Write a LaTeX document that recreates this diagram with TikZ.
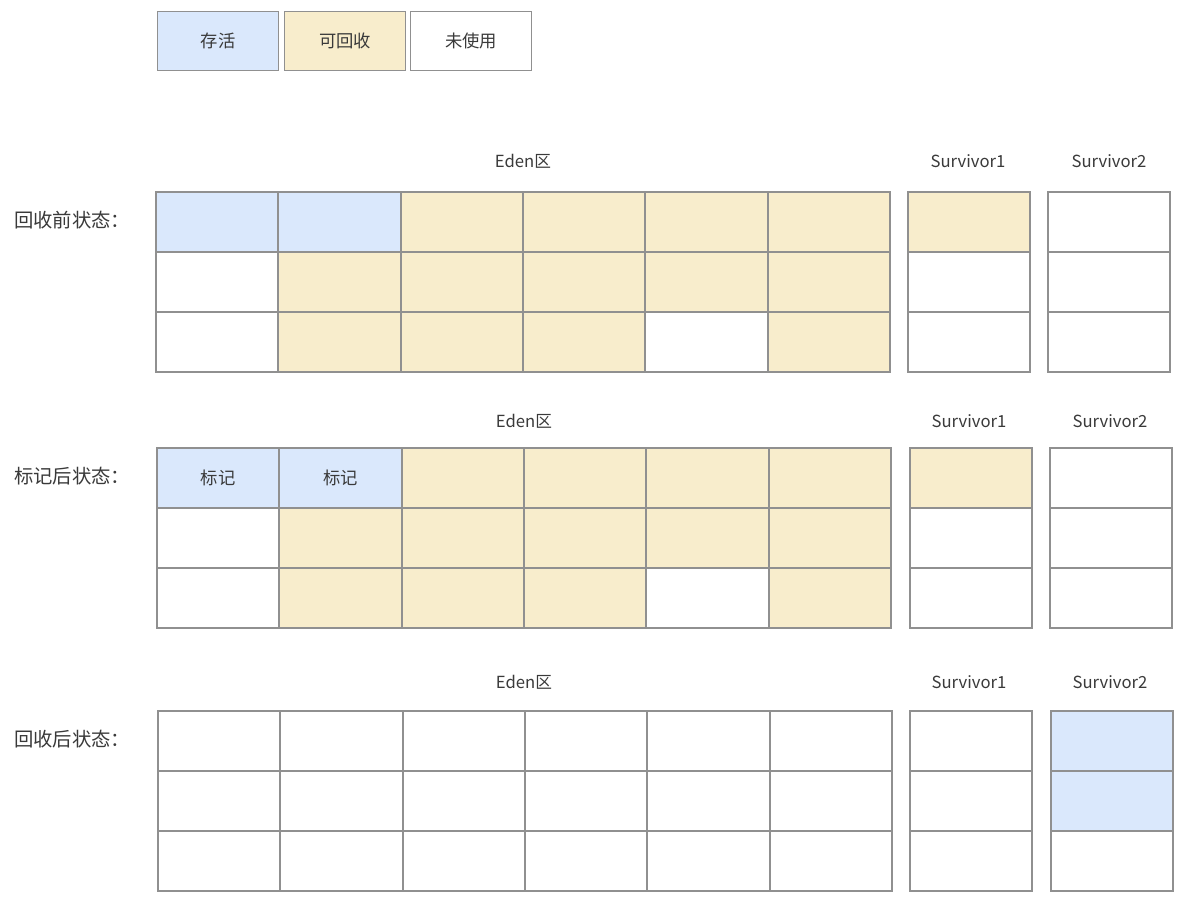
\documentclass[tikz,border=0pt]{standalone}
\usepackage{fontspec}
\setmainfont{Noto Sans CJK SC}
\definecolor{colb}{HTML}{DAE8FC}
\definecolor{coly}{HTML}{F8EDCC}
\definecolor{colw}{HTML}{FFFFFF}
\definecolor{edgegray}{HTML}{909090}
\definecolor{txt}{HTML}{3A3A3A}
\newcommand\memgrid[8]{%
  \foreach \cols [count=\r] in {#6} {
    \foreach \c [count=\i] in \cols {
      \node[cell,fill=col\c] (#1-\r-\i) at ({#2+(\i-1)*122.33},{#3+(\r-1)*60}) {};
    }
  }
  \foreach \c [count=\r] in {#7} {
    \node[scell,fill=col\c] (#1-sa-\r) at (#4,{#3+(\r-1)*60}) {};
  }
  \foreach \c [count=\r] in {#8} {
    \node[scell,fill=col\c] (#1-sb-\r) at (#5,{#3+(\r-1)*60}) {};
  }
}
\begin{document}
\begin{tikzpicture}[x=0.75pt,y=-0.75pt,
  cell/.style={draw=edgegray,line width=1.5pt,anchor=north west,inner sep=0pt,
    minimum width=91.75pt,minimum height=45pt},
  scell/.style={cell,minimum width=91.5pt},
  legend/.style={draw=edgegray,line width=1.2pt,inner sep=0pt,
    minimum width=91pt,minimum height=44pt,font=\fontsize{13pt}{15pt}\selectfont,text=txt},
  rowlabel/.style={font=\fontsize{14.5pt}{16pt}\selectfont,text=txt},
  arealabel/.style={font=\fontsize{12.5pt}{14pt}\selectfont,text=txt},
  marktext/.style={font=\fontsize{13pt}{15pt}\selectfont,text=txt}]
\useasboundingbox (0,0) rectangle (1187,896);
\fill[white] (0,0) rectangle (1187,896);
% legend
\node[legend,fill=colb] (lg1) at (218,41) {存活};
\node[legend,fill=coly] (lg2) at (345,41) {可回收};
\node[legend,fill=colw] (lg3) at (471,41) {未使用};
% section 1
\node[arealabel] (e1) at (523,161) {Eden区};
\node[arealabel] (sa1) at (968,161) {Survivor1};
\node[arealabel] (sb1) at (1109,161) {Survivor2};
\node[rowlabel] (l1) at (72,220) {回收前状态：};
\memgrid{g}{155}{191}{907}{1047}{{b,b,y,y,y,y},{w,y,y,y,y,y},{w,y,y,y,w,y}}{y,w,w}{w,w,w}
% section 2
\node[arealabel] (e2) at (524,421) {Eden区};
\node[arealabel] (sa2) at (969,421) {Survivor1};
\node[arealabel] (sb2) at (1110,421) {Survivor2};
\node[rowlabel] (l2) at (72,476) {标记后状态：};
\memgrid{h}{156}{447}{909}{1049}{{b,b,y,y,y,y},{w,y,y,y,y,y},{w,y,y,y,w,y}}{y,w,w}{w,w,w}
\node[marktext] (m1) at (h-1-1.center) {标记};
\node[marktext] (m2) at (h-1-2.center) {标记};
% section 3
\node[arealabel] (e3) at (524,682) {Eden区};
\node[arealabel] (sa3) at (969,682) {Survivor1};
\node[arealabel] (sb3) at (1110,682) {Survivor2};
\node[rowlabel] (l3) at (72,739) {回收后状态：};
\memgrid{k}{157}{710}{909}{1050}{{w,w,w,w,w,w},{w,w,w,w,w,w},{w,w,w,w,w,w}}{w,w,w}{b,b,w}
\end{tikzpicture}
\end{document}
